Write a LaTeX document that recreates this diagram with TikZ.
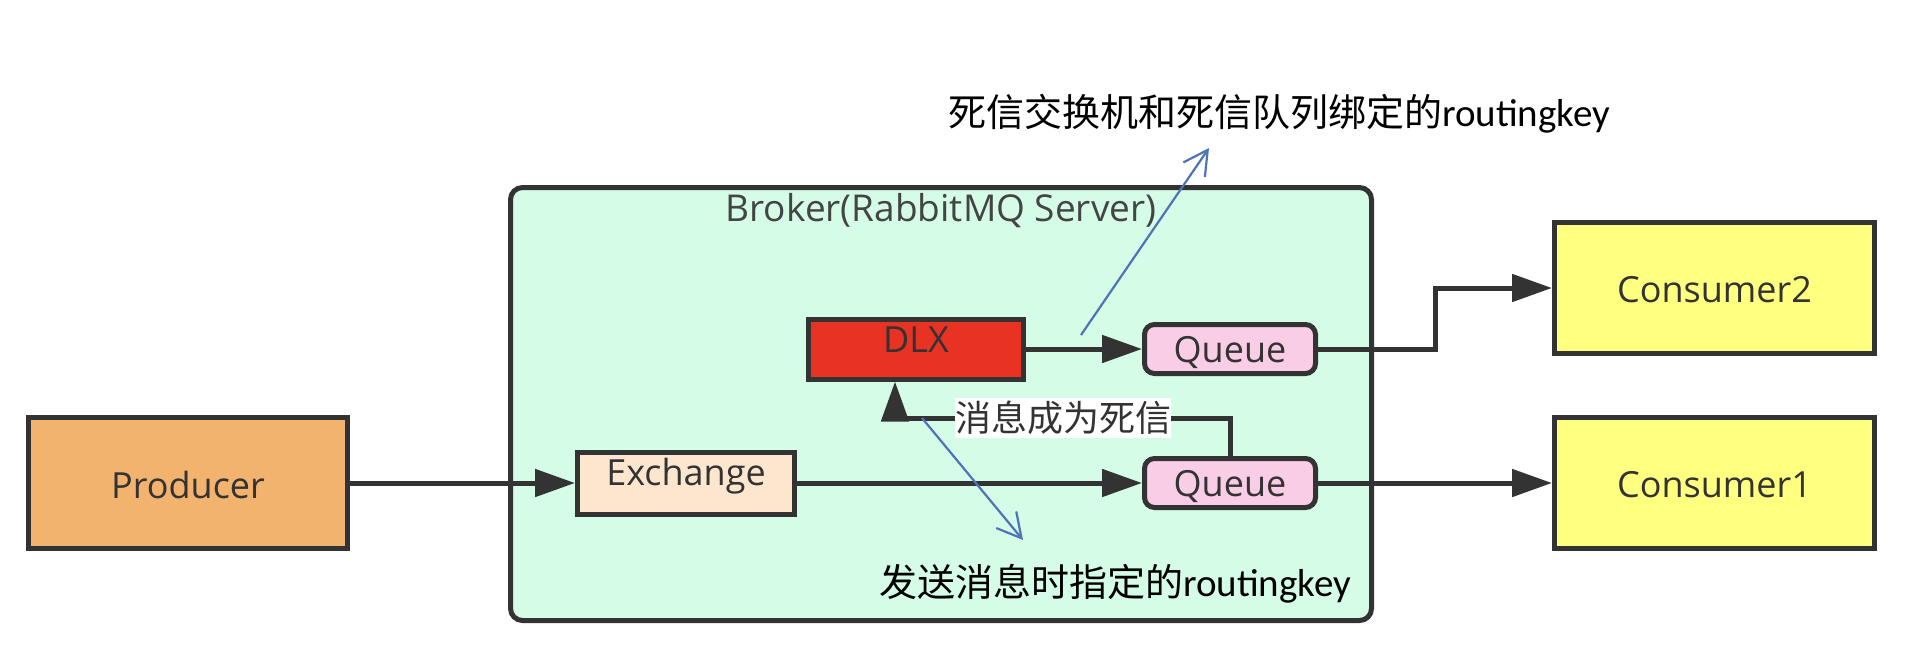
\documentclass[tikz,border=0pt]{standalone}
\usepackage{fontspec}
\setmainfont{Open Sans}
\newfontfamily\cjkf{Noto Sans CJK SC}
\newfontfamily\notelat{Carlito}
\usetikzlibrary{arrows.meta,calc}
\definecolor{edge}{HTML}{333333}
\definecolor{brokerfill}{HTML}{D4FCE6}
\definecolor{prodfill}{HTML}{F2B36F}
\definecolor{exfill}{HTML}{FDE6CE}
\definecolor{dlxfill}{HTML}{E83223}
\definecolor{qfill}{HTML}{F8CDE5}
\definecolor{consfill}{HTML}{FFFF80}
\definecolor{annblue}{HTML}{4F74B5}
\definecolor{titlegray}{HTML}{444444}
\tikzset{
  x=1pt, y=-1pt,
  boxbase/.style={draw=edge, line width=5pt, inner sep=0pt, text=edge,
    font=\fontsize{36}{40}\selectfont, text height=26pt, text depth=0pt},
  prodbox/.style={boxbase, fill=prodfill, minimum width=319pt, minimum height=131pt, text height=30pt},
  exbox/.style={boxbase, fill=exfill, minimum width=217pt, minimum height=62pt, text height=27pt, text depth=22pt},
  dlxbox/.style={boxbase, fill=dlxfill, minimum width=215pt, minimum height=60pt, text height=26pt, text depth=20pt},
  qbox/.style={boxbase, fill=qfill, rounded corners=10pt, minimum width=171pt, minimum height=49pt, text height=27pt},
  consbox/.style={boxbase, fill=consfill, minimum width=320pt, minimum height=131pt, text height=29pt},
  brokerbox/.style={draw=edge, line width=5pt, fill=brokerfill, rounded corners=12pt,
    minimum width=861pt, minimum height=433pt, inner sep=0pt},
  flow/.style={draw=edge, line width=5pt, -{Triangle[length=40pt,width=27pt]}},
  ann/.style={draw=annblue, line width=2.2pt, -{Straight Barb[length=24pt,width=26pt,line width=2.2pt]}},
  notetext/.style={text=black, inner sep=0pt},
  deadlabel/.style={fill=white, text=edge, inner sep=0pt, minimum height=40pt,
    font=\cjkf\fontsize{36}{40}\selectfont}
}
\newcommand{\notecjk}[1]{{\cjkf\fontsize{38}{42}\selectfont #1}}
\newcommand{\notelatin}[1]{{\notelat\fontsize{39}{42}\selectfont #1}}
\begin{document}
\begin{tikzpicture}
\useasboundingbox[fill=white] (0,0) rectangle (1925,672);
% broker
\node[brokerbox] (broker) at (941,404) {};
\node[anchor=base, inner sep=0pt, text=titlegray, font=\fontsize{37}{40}\selectfont] (brokertitle) at (941,221.5) {Broker(RabbitMQ Server)};
% nodes
\node[prodbox] (producer) at (188,483) {Producer};
\node[exbox] (exchange) at (686,483) {Exchange};
\node[dlxbox] (dlx) at (916,349) {DLX};
\node[qbox] (q1) at (1230,349) {Queue};
\node[qbox] (q2) at (1230,483) {Queue};
\node[consbox] (c2) at (1714.5,288) {Consumer2};
\node[consbox] (c1) at (1714.5,483) {Consumer1};
% flows
\draw[flow] (producer) -- (exchange);
\draw[flow] (exchange) -- (q2);
\draw[flow] (q2) -- (c1);
\draw[flow] (dlx) -- (q1);
\draw[flow] (q1.east) -| ($(q1.east)!.5!(c2.west)$) |- (c2.west);
\coordinate (loopcorner) at (895,418);
\draw[flow] (q2.north) |- (loopcorner) -- (loopcorner |- dlx.south);
\node[deadlabel] (deadtxt) at (1063,418) {消息成为死信};
% annotations
\node[notetext, anchor=base west] (topnote) at (948,126) {\notecjk{死信交换机和死信队列绑定的}\notelatin{routingkey}};
\node[notetext, anchor=base west] (botnote) at (879,596) {\notecjk{发送消息时指定的}\notelatin{routingkey}};
\coordinate (a1s) at (1081,335);
\coordinate (a1e) at (1209,148);
\coordinate (a2s) at (922,418);
\coordinate (a2e) at (1023,540);
\draw[ann] (a1s) -- (a1e);
\draw[ann] (a2s) -- (a2e);
\end{tikzpicture}
\end{document}
